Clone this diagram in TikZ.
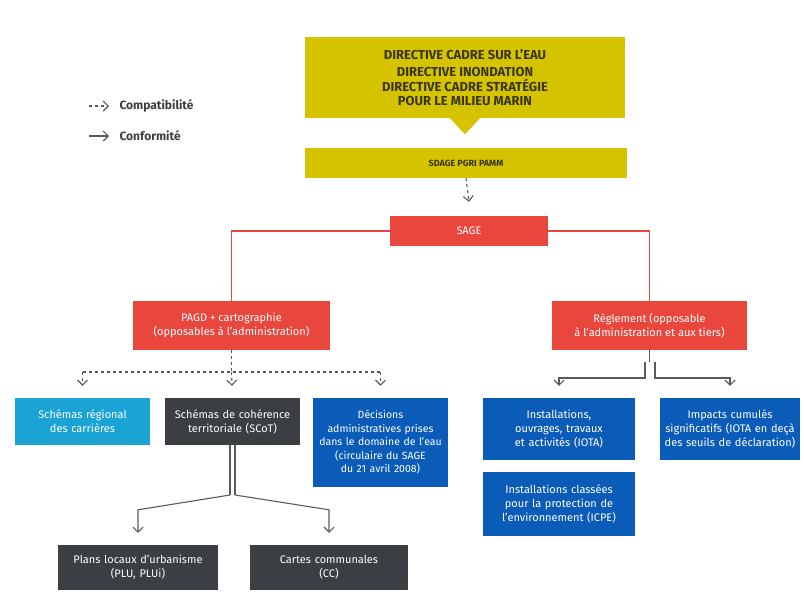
\documentclass[tikz,border=0pt]{standalone}
\usepackage{fontspec}
\setmainfont{Fira Sans}
\usetikzlibrary{arrows.meta, calc}

\definecolor{jaunedir}{HTML}{D6C300}
\definecolor{textejaune}{HTML}{3A3608}
\definecolor{rougesage}{HTML}{E9473D}
\definecolor{cyanbox}{HTML}{1BA3D6}
\definecolor{grisbox}{HTML}{3B3E42}
\definecolor{bleubox}{HTML}{0B5CB8}
\definecolor{grisfleche}{HTML}{5A5A5A}

\tikzset{
  boite/.style={inner sep=2pt, align=center, font=\fontsize{11}{14}\selectfont, text=white},
  jaune/.style={boite, fill=jaunedir, text=textejaune, font=\fontsize{13}{15}\selectfont\bfseries},
  rouge/.style={boite, fill=rougesage},
  cyan/.style={boite, fill=cyanbox},
  gris/.style={boite, fill=grisbox},
  bleu/.style={boite, fill=bleubox},
  lienrouge/.style={draw=rougesage, line width=1.2pt},
  lien/.style={draw=grisfleche, line width=1.1pt},
  compat/.style={lien, dashed, -{Straight Barb[length=5pt,width=10pt]}},
  conform/.style={lien, -{Straight Barb[length=5pt,width=10pt]}},
  legende/.style={anchor=west, text=grisbox, font=\fontsize{12}{14}\selectfont\bfseries}
}

\begin{document}
\begin{tikzpicture}[x=1pt, y=-1pt]
  \useasboundingbox (0,0) rectangle (804,595);

  % Directives and SDAGE
  \node[jaune, minimum width=320pt, minimum height=81pt] (dir) at (465,77.5)
    {DIRECTIVE CADRE SUR L'EAU\\[2pt] DIRECTIVE INONDATION\\[0pt]
     DIRECTIVE CADRE STRATÉGIE\\[-1.5pt] POUR LE MILIEU MARIN};
  \fill[jaunedir] ($(dir.south)+(-15,0)$) -- ($(dir.south)+(0,16)$) -- ($(dir.south)+(15,0)$) -- cycle;
  \node[jaune, minimum width=322pt, minimum height=30pt, font=\fontsize{9}{11}\selectfont\bfseries] (sdage) at (466,163) {SDAGE PGRI PAMM};

  % SAGE and its two parts
  \node[rouge, minimum width=158pt, minimum height=30pt] (sage) at (469,231) {SAGE};
  \node[rouge, minimum width=197pt, minimum height=49pt] (pagd) at (231.5,325.5)
    {PAGD + cartographie\\(opposables à l'administration)};
  \node[rouge, minimum width=195pt, minimum height=49pt] (regl) at (649.5,325.5)
    {Règlement (opposable\\à l'administration et aux tiers)};

  \draw[compat] (sdage.south) -- ($(sage.north)+(0,-14)$);
  \draw[lienrouge] (sage.west) -| (pagd.north);
  \draw[lienrouge] (sage.east) -| (regl.north);

  % documents compatibles with the PAGD
  \node[cyan, minimum width=135pt, minimum height=47pt, text width=130pt] (srca) at (82.5,421.5)
    {Schémas régional\\des carrières};
  \node[gris, minimum width=135pt, minimum height=47pt, text width=131pt] (scot) at (232.5,421.5)
    {Schémas de cohérence\\territoriale (SCoT)};
  \node[bleu, minimum width=135pt, minimum height=89pt, text width=131pt, font=\fontsize{10.5}{13.5}\selectfont] (decis) at (380.5,442.5)
    {Décisions\\administratives prises\\dans le domaine de l'eau\\(circulaire du SAGE\\du 21 avril 2008)};

  \coordinate (pbus) at (231.5,372);
  \draw[lien, dashed] (pagd.south) -- (pbus);
  \draw[lien, dashed] (srca.north |- pbus) -- (decis.north |- pbus);
  \draw[compat, shorten >=12pt] (srca.north |- pbus) -- (srca.north);
  \draw[compat, shorten >=12pt] (pbus) -- (scot.north);
  \draw[compat, shorten >=12pt] (decis.north |- pbus) -- (decis.north);

  % documents conformes au reglement
  \node[bleu, minimum width=152pt, minimum height=62pt, text width=145pt] (iota) at (559,429)
    {Installations,\\ouvrages, travaux\\et activités (IOTA)};
  \node[bleu, minimum width=140pt, minimum height=62pt, text width=136pt] (impacts) at (730,429)
    {Impacts cumulés\\significatifs (IOTA en deçà\\des seuils de déclaration)};
  \node[bleu, minimum width=152pt, minimum height=64pt, text width=145pt] (icpe) at (559,504)
    {Installations classées\\pour la protection de\\l'environnement (ICPE)};

  \coordinate (rgauche) at (645,362);
  \coordinate (rdroite) at (655,362);
  \draw[lien] (regl.south) -- ++(0,12);
  \draw[conform, shorten >=12pt] (rgauche) |- ($(iota.north |- rgauche)+(0,16)$) -- (iota.north);
  \draw[conform, shorten >=12pt] (rdroite) |- ($(impacts.north |- rdroite)+(0,16)$) -- (impacts.north);

  % documents d'urbanisme
  \node[gris, minimum width=160pt, minimum height=45pt, text width=155pt] (plu) at (138,567.5)
    {Plans locaux d'urbanisme\\(PLU, PLUi)};
  \node[gris, minimum width=158pt, minimum height=45pt, text width=150pt] (cc) at (329,567.5)
    {Cartes communales\\(CC)};

  \coordinate (split) at (232.5,495);
  \draw[lien] ($(scot.south)+(-2.5,0)$) -- ($(split)+(-2.5,0)$);
  \draw[lien] ($(scot.south)+(2.5,0)$) -- ($(split)+(2.5,0)$);
  \draw[conform, shorten >=12pt] ($(split)+(-2.5,0)$) -- ($(plu.north)+(0,-35)$) -- (plu.north);
  \draw[conform, shorten >=12pt] ($(split)+(2.5,0)$) -- ($(cc.north)+(0,-35)$) -- (cc.north);

  % legend
  \node[legende] (lcompat) at (116,106) {Compatibilité};
  \node[legende] (lconform) at (116,136) {Conformité};
  \coordinate (dcompat) at (89,106);
  \coordinate (dconform) at (89,136);
  \draw[compat, shorten >=7pt, dash pattern=on 3pt off 3pt] (dcompat) -- (lcompat.west);
  \draw[conform, shorten >=7pt] (dconform) -- (lconform.west);
\end{tikzpicture}
\end{document}
